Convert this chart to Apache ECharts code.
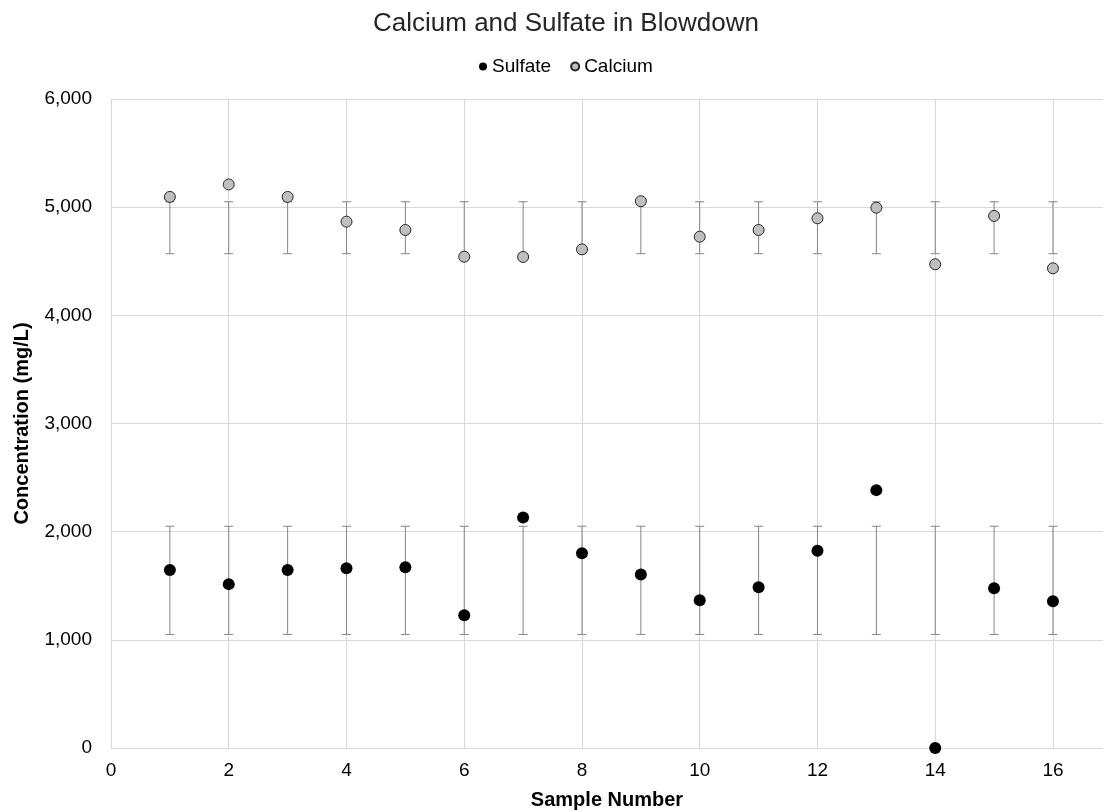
<!DOCTYPE html>
<html>
<head>
<meta charset="utf-8">
<script src="https://cdn.jsdelivr.net/npm/echarts@6/dist/echarts.min.js"></script>
<style>
html,body{margin:0;padding:0;background:#fff;}
#chart{width:1103px;height:812px;}
</style>
</head>
<body>
<div id="chart"></div>
<script>
var sampleNumbers = [1, 2, 3, 4, 5, 6, 7, 8, 9, 10, 11, 12, 13, 14, 15, 16];
var sulfate = [1645, 1515, 1645, 1662, 1672, 1228, 2130, 1800, 1604, 1366, 1487, 1823, 2384, 0, 1477, 1357];
var calcium = [5095, 5210, 5095, 4866, 4789, 4542, 4540, 4610, 5055, 4727, 4789, 4897, 4995, 4472, 4919, 4435];
var sulfateErrLow  = [1050, 1050, 1050, 1050, 1050, 1050, 1050, 1050, 1050, 1050, 1050, 1050, 1050, 1050, 1050, 1050];
var sulfateErrHigh = [2050, 2050, 2050, 2050, 2050, 2050, 2050, 2050, 2050, 2050, 2050, 2050, 2050, 2050, 2050, 2050];
var calciumErrLow  = [4570, 4570, 4570, 4570, 4570, 4570, 4570, 4570, 4570, 4570, 4570, 4570, 4570, 4570, 4570, 4570];
var calciumErrHigh = [5050, 5050, 5050, 5050, 5050, 5050, 5050, 5050, 5050, 5050, 5050, 5050, 5050, 5050, 5050, 5050];
var xTicks = [0, 2, 4, 6, 8, 10, 12, 14, 16];
var yTicks = [0, 1000, 2000, 3000, 4000, 5000, 6000];

var FONT = 'Liberation Sans, Arial, sans-serif';

function pairs(xs, ys) { return xs.map(function (x, i) { return [x, ys[i]]; }); }
function triples(xs, lo, hi) { return xs.map(function (x, i) { return [x, lo[i], hi[i]]; }); }

function renderErr(params, api) {
  var x = api.value(0);
  var lo = api.coord([x, api.value(1)]);
  var hi = api.coord([x, api.value(2)]);
  var hw = 4.5;
  var st = { stroke: '#858585', lineWidth: 1 };
  return {
    type: 'group',
    children: [
      { type: 'line', shape: { x1: lo[0], y1: lo[1], x2: hi[0], y2: hi[1] }, style: st },
      { type: 'line', shape: { x1: lo[0] - hw, y1: lo[1], x2: lo[0] + hw, y2: lo[1] }, style: st },
      { type: 'line', shape: { x1: hi[0] - hw, y1: hi[1], x2: hi[0] + hw, y2: hi[1] }, style: st }
    ]
  };
}

var chart = echarts.init(document.getElementById('chart'));
chart.setOption({
  animation: false,
  backgroundColor: '#ffffff',
  title: {
    text: 'Calcium and Sulfate in Blowdown',
    left: 368,
    top: 6,
    textStyle: { fontFamily: FONT, fontSize: 26, fontWeight: 'normal', color: '#262626' }
  },
  legend: {
    top: 52,
    left: 474,
    itemWidth: 8,
    itemHeight: 8,
    itemGap: 19,
    itemStyle: { opacity: 1 },
    data: ['Sulfate', 'Calcium'],
    textStyle: { fontFamily: FONT, fontSize: 19, color: '#000' }
  },
  grid: { left: 111, right: 0, top: 99, bottom: 64, containLabel: false, outerBoundsMode: 'none' },
  xAxis: {
    type: 'value',
    min: xTicks[0],
    max: 16.85,
    interval: 2,
    name: 'Sample Number',
    nameLocation: 'middle',
    nameGap: 42,
    nameTextStyle: { fontFamily: FONT, fontSize: 20, fontWeight: 'bold', color: '#000' },
    axisLine: { show: true, lineStyle: { color: '#d9d9d9', width: 1 } },
    axisTick: { show: false },
    splitLine: { show: true, lineStyle: { color: '#d9d9d9', width: 1 } },
    axisLabel: { fontFamily: FONT, fontSize: 19, color: '#000', margin: 13, showMaxLabel: false }
  },
  yAxis: {
    type: 'value',
    min: yTicks[0],
    max: yTicks[yTicks.length - 1],
    interval: 1000,
    name: 'Concentration (mg/L)',
    nameLocation: 'middle',
    nameGap: 79,
    nameTextStyle: { fontFamily: FONT, fontSize: 20, fontWeight: 'bold', color: '#000' },
    axisLine: { show: false },
    axisTick: { show: false },
    splitLine: { show: true, lineStyle: { color: '#d9d9d9', width: 1 } },
    axisLabel: {
      fontFamily: FONT, fontSize: 19, color: '#000', margin: 19,
      formatter: function (v) { return v.toLocaleString('en-US'); }
    }
  },
  series: [
    {
      name: 'Sulfate error', type: 'custom', renderItem: renderErr,
      encode: { x: 0, y: [1, 2] }, data: triples(sampleNumbers, sulfateErrLow, sulfateErrHigh), z: 1, silent: true
    },
    {
      name: 'Calcium error', type: 'custom', renderItem: renderErr,
      encode: { x: 0, y: [1, 2] }, data: triples(sampleNumbers, calciumErrLow, calciumErrHigh), z: 1, silent: true
    },
    {
      name: 'Sulfate', type: 'scatter', symbol: 'circle', symbolSize: 12, z: 3,
      itemStyle: { color: '#000000', borderColor: '#000000', borderWidth: 0, opacity: 1 },
      data: pairs(sampleNumbers, sulfate)
    },
    {
      name: 'Calcium', type: 'scatter', symbol: 'circle', symbolSize: 11, z: 3,
      itemStyle: { color: '#bfbfbf', borderColor: '#262626', borderWidth: 1, opacity: 1 },
      data: pairs(sampleNumbers, calcium)
    }
  ]
});
</script>
</body>
</html>
